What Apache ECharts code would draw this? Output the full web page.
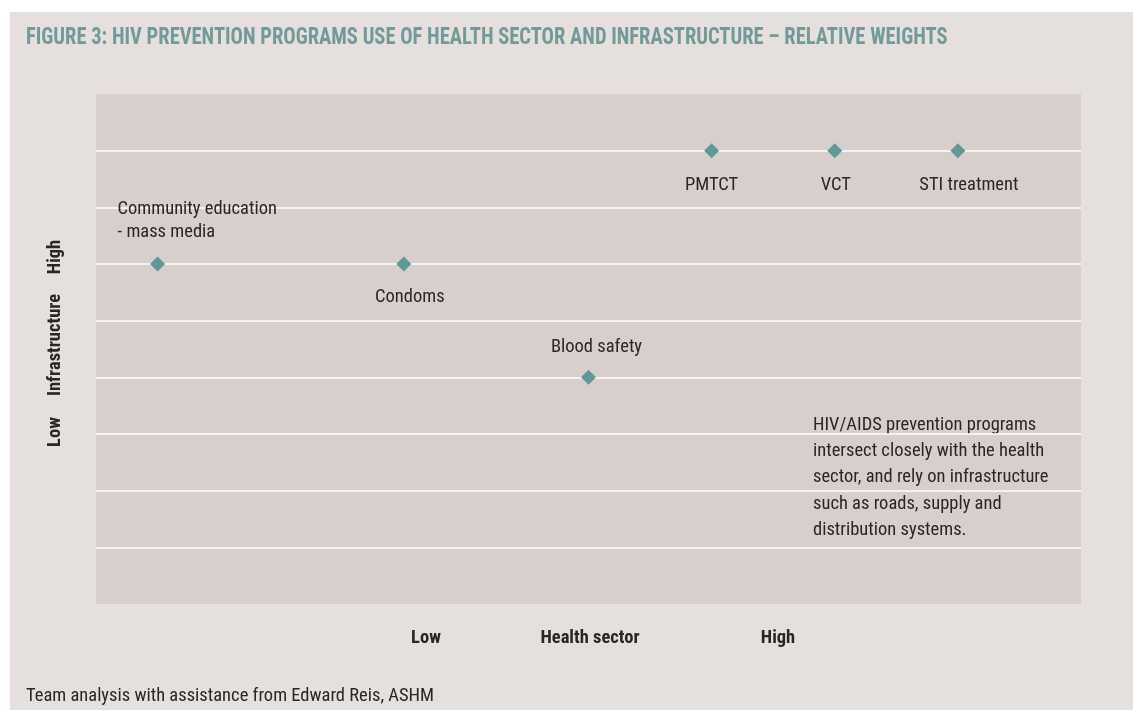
<!DOCTYPE html>
<html>
<head>
<meta charset="utf-8">
<script src="https://cdn.jsdelivr.net/npm/echarts@6/dist/echarts.min.js"></script>
<style>
  html, body { margin: 0; padding: 0; background: #ffffff; }
  #chart { width: 1133px; height: 710px; }
</style>
</head>
<body>
<div id="chart"></div>
<script>
  // programs and their relative weights
  const programs = ['Community education\n- mass media', 'Condoms', 'Blood safety', 'PMTCT', 'VCT', 'STI treatment'];
  const healthSector = [0.5, 2.5, 4, 5, 6, 7];
  const infrastructure = [6, 6, 4, 8, 8, 8];

  const xAxisLabels = ['Low', 'Health sector', 'High'];
  const yAxisLabels = ['Low', 'Infrastructure', 'High'];

  const titleText = 'FIGURE 3: HIV PREVENTION PROGRAMS USE OF HEALTH SECTOR AND INFRASTRUCTURE \u2013 RELATIVE WEIGHTS';
  const noteText = 'HIV/AIDS prevention programs\nintersect closely with the health\nsector, and rely on infrastructure\nsuch as roads, supply and\ndistribution systems.';
  const sourceText = 'Team analysis with assistance from Edward Reis, ASHM';

  const FONT = '"Roboto Condensed", "DejaVu Sans Condensed", sans-serif';
  const TEXT = '#2b2624';

  // label placement for each point (style only)
  const labelStyles = [
    { align: 'left', offset: [-40, -43] },
    { align: 'center', offset: [6, 33] },
    { align: 'center', offset: [8, -30] },
    { align: 'center', offset: [0, 35] },
    { align: 'center', offset: [1, 35] },
    { align: 'center', offset: [11, 35] }
  ];

  const chart = echarts.init(document.getElementById('chart'));

  const points = programs.map((name, i) => ({
    name: name,
    value: [healthSector[i], infrastructure[i]],
    label: {
      show: true,
      position: 'inside',
      formatter: '{b}',
      align: labelStyles[i].align,
      verticalAlign: 'middle',
      offset: labelStyles[i].offset,
      color: TEXT,
      fontFamily: FONT,
      fontSize: 18.5,
      lineHeight: 23
    }
  }));

  const xPos = [426, 590, 778];
  const yPos = [432, 345, 257];

  const graphics = [
    // beige panel
    { type: 'rect', z: -10, shape: { x: 10, y: 12, width: 1123, height: 698 }, style: { fill: '#e5e0dd' } },
    { type: 'text', x: 26, y: 38, scaleX: 0.855, style: { text: titleText, fill: '#729a98', font: 'bold 24px ' + FONT, verticalAlign: 'middle' } },
    { type: 'text', left: 26, top: 687, style: { text: sourceText, fill: TEXT, font: '18.5px ' + FONT } },
    { type: 'text', left: 813, top: 412, style: { text: noteText, fill: TEXT, font: '18.5px ' + FONT, lineHeight: 26.3 } }
  ];
  xAxisLabels.forEach((t, i) => {
    graphics.push({ type: 'text', x: xPos[i], y: 638, style: { text: t, fill: TEXT, font: 'bold 18.5px ' + FONT, align: 'center', verticalAlign: 'middle' } });
  });
  yAxisLabels.forEach((t, i) => {
    graphics.push({ type: 'text', x: 55, y: yPos[i], rotation: Math.PI / 2, style: { text: t, fill: TEXT, font: 'bold 18.5px ' + FONT, align: 'center', verticalAlign: 'middle' } });
  });

  chart.setOption({
    backgroundColor: '#ffffff',
    animation: false,
    grid: {
      left: 96, top: 94, width: 985, height: 510,
      show: true, backgroundColor: '#d8cfcc', borderWidth: 0
    },
    xAxis: {
      type: 'value', min: 0, max: 8, interval: 1,
      axisLine: { show: false }, axisTick: { show: false },
      axisLabel: { show: false }, splitLine: { show: false }
    },
    yAxis: {
      type: 'value', min: 0, max: 9, interval: 1,
      axisLine: { show: false }, axisTick: { show: false },
      axisLabel: { show: false },
      splitLine: { show: true, showMinLine: false, showMaxLine: false, lineStyle: { color: '#ffffff', width: 1.5 } }
    },
    graphic: graphics,
    series: [{
      type: 'scatter',
      symbol: 'diamond',
      symbolSize: 15,
      itemStyle: { color: '#5a9b98', opacity: 1 },
      emphasis: { disabled: true },
      data: points
    }]
  });
</script>
</body>
</html>
